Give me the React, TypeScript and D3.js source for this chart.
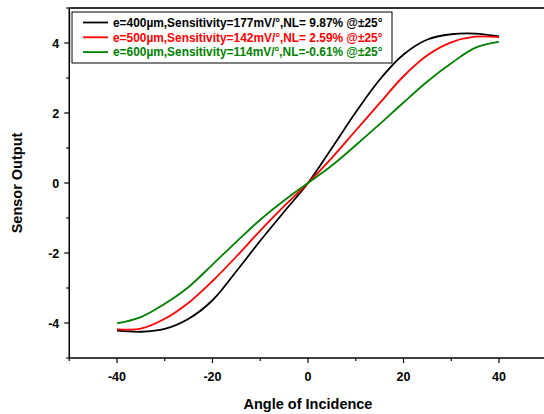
import React from "react";
import * as d3 from "d3";

const angles = [-40, -35, -30, -25, -20, -15, -10, -5, 0, 5, 10, 15, 20, 25, 30, 35, 40];
const black400 = [-4.22, -4.25, -4.17, -3.88, -3.35, -2.52, -1.65, -0.82, 0, 1.0, 2.02, 2.95, 3.67, 4.1, 4.25, 4.27, 4.19];
const red500 = [-4.18, -4.16, -3.88, -3.42, -2.8, -2.1, -1.36, -0.66, 0, 0.72, 1.5, 2.28, 3.05, 3.65, 4.02, 4.18, 4.17];
const green600 = [-4.01, -3.83, -3.45, -2.97, -2.33, -1.68, -1.05, -0.5, 0, 0.5, 1.08, 1.68, 2.3, 2.9, 3.42, 3.86, 4.03];

const seriesLabels = [
  "e=400µm,Sensitivity=177mV/°,NL= 9.87% @±25°",
  "e=500µm,Sensitivity=142mV/°,NL= 2.59% @±25°",
  "e=600µm,Sensitivity=114mV/°,NL=-0.61% @±25°",
];
const seriesColors = ["#000000", "#ff0000", "#008000"];
const seriesValues = [black400, red500, green600];

const xMajor = [-40, -20, 0, 20, 40];
const xMinor = [-50, -30, -10, 10, 30, 50];
const yMajor = [-4, -2, 0, 2, 4];
const yMinor = [-5, -3, -1, 1, 3, 5];

export default function App() {
  const W = 544, H = 414;
  const x = d3.scaleLinear().domain([-50, 50]).range([69.25, 546.75]);
  const y = d3.scaleLinear().domain([-5, 5]).range([358, 8]);
  const line = d3
    .line<[number, number]>()
    .x((d) => x(d[0]))
    .y((d) => y(d[1]))
    .curve(d3.curveCatmullRom.alpha(0.5));
  const font = "'Liberation Sans', Arial, sans-serif";
  const x0 = x(-50), y0 = y(-5);
  return (
    <svg width={W} height={H} style={{ position: "absolute", left: 0, top: 0, background: "#fff" }}>
      {seriesValues.map((vals, i) => (
        <path
          key={i}
          d={line(angles.map((a, j) => [a, vals[j]] as [number, number])) || ""}
          fill="none"
          stroke={seriesColors[i]}
          strokeWidth={1.8}
        />
      ))}
      {/* frame */}
      <line x1={x0} x2={W} y1={y(5)} y2={y(5)} stroke="#333" strokeWidth={2} />
      <line x1={x0} x2={x0} y1={y(5)} y2={y0} stroke="#000" strokeWidth={1.5} />
      <line x1={x0} x2={W} y1={y0} y2={y0} stroke="#000" strokeWidth={1.5} />
      {xMajor.map((t) => (
        <g key={"xm" + t}>
          <line x1={x(t)} x2={x(t)} y1={y0} y2={y0 + 5} stroke="#000" strokeWidth={1.2} />
          <text x={x(t)} y={y0 + 23} textAnchor="middle" fontFamily={font} fontWeight="bold" fontSize={12.5}>
            {t}
          </text>
        </g>
      ))}
      {xMinor.map((t) => (
        <line key={"xn" + t} x1={x(t)} x2={x(t)} y1={y0} y2={y0 + 3} stroke="#000" strokeWidth={1.2} />
      ))}
      {yMajor.map((t) => (
        <g key={"ym" + t}>
          <line x1={x0 - 5} x2={x0} y1={y(t)} y2={y(t)} stroke="#000" strokeWidth={1.2} />
          <text x={x0 - 10} y={y(t) + 4.5} textAnchor="end" fontFamily={font} fontWeight="bold" fontSize={12.5}>
            {t}
          </text>
        </g>
      ))}
      {yMinor.map((t) => (
        <line key={"yn" + t} x1={x0 - 3} x2={x0} y1={y(t)} y2={y(t)} stroke="#000" strokeWidth={1.2} />
      ))}
      <text x={x(0)} y={409} textAnchor="middle" fontFamily={font} fontWeight="bold" fontSize={14.5}>
        Angle of Incidence
      </text>
      <text
        transform={`translate(22,${y(0)}) rotate(-90)`}
        textAnchor="middle"
        fontFamily={font}
        fontWeight="bold"
        fontSize={14.5}
      >
        Sensor Output
      </text>
      {/* legend */}
      <rect x={72} y={12} width={320} height={51} fill="#fff" stroke="#000" strokeWidth={1} />
      <line x1={71} x2={71} y1={12} y2={63} stroke="#999" strokeWidth={1} />
      {seriesLabels.map((lab, i) => {
        const ly = 22.5 + i * 14.8;
        return (
          <g key={lab}>
            <line x1={83} x2={108} y1={ly} y2={ly} stroke={seriesColors[i]} strokeWidth={1.8} />
            <text x={113} y={ly + 4.2} fontFamily={font} fontWeight="bold" fontSize={11.9} fill={seriesColors[i]}>
              {lab}
            </text>
          </g>
        );
      })}
    </svg>
  );
}
